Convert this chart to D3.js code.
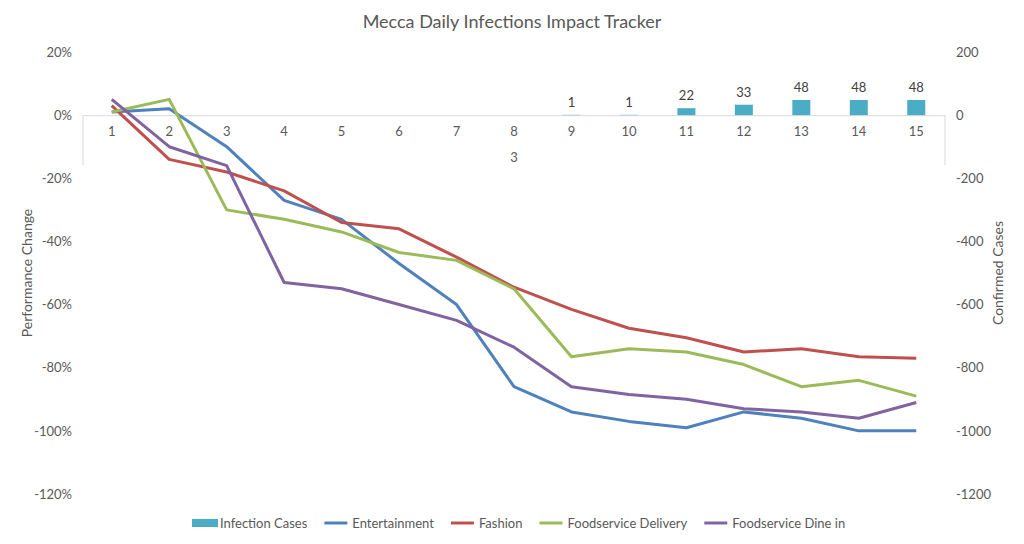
<!DOCTYPE html>
<html>
<head>
<meta charset="utf-8">
<script src="https://cdn.jsdelivr.net/npm/d3@7"></script>
<style>
  body { margin: 0; background: #fff; }
  svg text { font-family: Lato, "Open Sans", sans-serif; fill: #595959; }
</style>
</head>
<body>
<div id="chart"></div>
<script>
// data
var days = [1, 2, 3, 4, 5, 6, 7, 8, 9, 10, 11, 12, 13, 14, 15]
var monthLabel = "3"
var cases = [null, null, null, null, null, null, null, null, 1, 1, 22, 33, 48, 48, 48]
var entertainment = [0.01, 0.02, -0.10, -0.27, -0.33, -0.47, -0.60, -0.86, -0.94, -0.97, -0.99, -0.94, -0.96, -1.00, -1.00]
var fashion = [0.03, -0.14, -0.18, -0.24, -0.34, -0.36, -0.45, -0.545, -0.615, -0.675, -0.705, -0.75, -0.74, -0.765, -0.77]
var delivery = [0.01, 0.05, -0.30, -0.33, -0.37, -0.435, -0.46, -0.55, -0.765, -0.74, -0.75, -0.79, -0.86, -0.84, -0.89]
var dineIn = [0.05, -0.10, -0.16, -0.53, -0.55, -0.60, -0.65, -0.735, -0.86, -0.885, -0.90, -0.93, -0.94, -0.96, -0.91]
var leftTicks = [0.2, 0, -0.2, -0.4, -0.6, -0.8, -1.0, -1.2]
var rightTicks = [200, 0, -200, -400, -600, -800, -1000, -1200]

var series = [
  { name: "Entertainment", values: entertainment, color: "#4F81BD" },
  { name: "Fashion", values: fashion, color: "#C0504D" },
  { name: "Foodservice Delivery", values: delivery, color: "#9BBB59" },
  { name: "Foodservice Dine in", values: dineIn, color: "#8064A2" }
]
var barColor = "#4BACC6"

var width = 1024, height = 544
var plot = { left: 83, right: 945, top: 52, bottom: 494 }
var fs = "13px"

var svg = d3.select("#chart").append("svg")
  .attr("width", width)
  .attr("height", height)

// scales
var x = d3.scaleBand().domain(days).range([plot.left, plot.right])
var yL = d3.scaleLinear().domain([-1.2, 0.2]).range([plot.bottom, plot.top])
var yR = d3.scaleLinear().domain([-1200, 200]).range([plot.bottom, plot.top])

// title
svg.append("text")
  .attr("x", width / 2)
  .attr("y", 28)
  .attr("text-anchor", "middle")
  .style("font-size", "18px")
  .text("Mecca Daily Infections Impact Tracker")

// left axis
var left = svg.append("g")
  .attr("transform", "translate(" + plot.left + ",0)")
  .call(d3.axisLeft(yL).tickValues(leftTicks).tickSize(0).tickPadding(11)
    .tickFormat(function (d) { return Math.round(d * 100) + "%" }))
left.select(".domain").remove()
left.selectAll("text").style("font-size", fs).style("fill", "#595959")

// right axis
var right = svg.append("g")
  .attr("transform", "translate(" + plot.right + ",0)")
  .call(d3.axisRight(yR).tickValues(rightTicks).tickSize(0).tickPadding(11)
    .tickFormat(function (d) { return String(d) }))
right.select(".domain").remove()
right.selectAll("text").style("font-size", fs).style("fill", "#595959")

// category axis at zero
var xAxis = svg.append("g")
  .attr("transform", "translate(0," + yL(0) + ")")
  .call(d3.axisBottom(x).tickSize(0).tickPadding(12))
xAxis.select(".domain").attr("stroke", "#d9d9d9")
xAxis.selectAll("text").style("font-size", fs).style("fill", "#595959")

// group separators for the month level
svg.selectAll(".sep")
  .data([plot.left, plot.right])
  .enter()
  .append("line")
  .attr("x1", function (d) { return d })
  .attr("x2", function (d) { return d })
  .attr("y1", yL(0))
  .attr("y2", yL(0) + 50)
  .attr("stroke", "#d9d9d9")

svg.append("text")
  .attr("x", (plot.left + plot.right) / 2)
  .attr("y", yL(0) + 47)
  .attr("text-anchor", "middle")
  .style("font-size", fs)
  .text(monthLabel)

// axis titles
svg.append("text")
  .attr("transform", "translate(32," + (plot.top + plot.bottom) / 2 + ") rotate(-90)")
  .attr("text-anchor", "middle")
  .style("font-size", "14px")
  .text("Performance Change")

svg.append("text")
  .attr("transform", "translate(1003," + (plot.top + plot.bottom) / 2 + ") rotate(-90)")
  .attr("text-anchor", "middle")
  .style("font-size", "14px")
  .text("Confirmed Cases")

// bars
var barW = 18
var barData = days.map(function (d, i) { return { day: d, v: cases[i] } })
  .filter(function (d) { return d.v !== null })

svg.selectAll(".bar")
  .data(barData)
  .enter()
  .append("rect")
  .attr("class", "bar")
  .attr("x", function (d) { return x(d.day) + x.bandwidth() / 2 - barW / 2 })
  .attr("y", function (d) { return yR(d.v) })
  .attr("width", barW)
  .attr("height", function (d) { return yR(0) - yR(d.v) })
  .attr("fill", barColor)

svg.selectAll(".barlabel")
  .data(barData)
  .enter()
  .append("text")
  .attr("x", function (d) { return x(d.day) + x.bandwidth() / 2 })
  .attr("y", function (d) { return yR(d.v) - 8 })
  .attr("text-anchor", "middle")
  .style("font-size", fs)
  .style("fill", "#404040")
  .text(function (d) { return d.v })

// lines
var line = d3.line()
  .x(function (d, i) { return x(days[i]) + x.bandwidth() / 2 })
  .y(function (d) { return yL(d) })

svg.selectAll(".series")
  .data(series)
  .enter()
  .append("path")
  .attr("d", function (s) { return line(s.values) })
  .attr("fill", "none")
  .attr("stroke", function (s) { return s.color })
  .attr("stroke-width", 3)
  .attr("stroke-linejoin", "round")

// legend
var legendItems = [{ name: "Infection Cases", color: barColor, bar: true }].concat(series)
var lx = 192, ly = 523
legendItems.forEach(function (item) {
  var g = svg.append("g").attr("transform", "translate(" + lx + "," + ly + ")")
  if (item.bar) {
    g.append("rect").attr("x", 0).attr("y", -4).attr("width", 26).attr("height", 8).attr("fill", item.color)
  } else {
    g.append("line").attr("x1", 0).attr("x2", 23).attr("y1", 0).attr("y2", 0)
      .attr("stroke", item.color).attr("stroke-width", 3)
  }
  var t = g.append("text")
    .attr("x", 28)
    .attr("y", 4.5)
    .style("font-size", fs)
    .text(item.name)
  lx += 28 + t.node().getComputedTextLength() + 17
})
</script>
</body>
</html>
